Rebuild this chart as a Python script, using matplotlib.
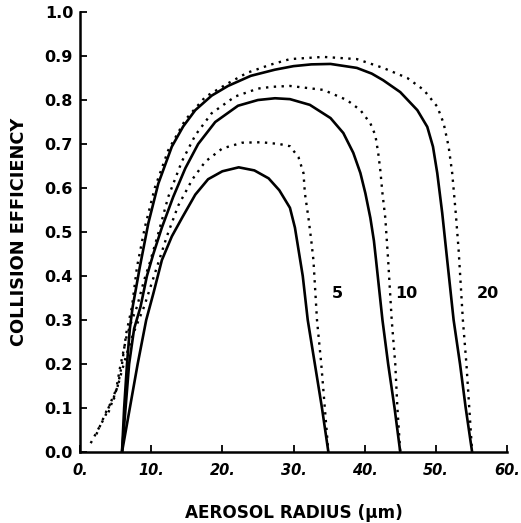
import matplotlib.pyplot as plt

# readings from the figure: aerosol radius (um) vs collision efficiency
solid5_x = [5.9, 7.0, 8.1, 9.3, 10.3, 11.5, 12.9, 14.4, 16.2, 18.0, 20.0, 22.3, 24.5, 26.5, 28.0, 29.5, 30.2, 30.8, 31.3, 32.0, 33.0, 34.0, 34.9]
solid5_y = [0.0, 0.1, 0.2, 0.3, 0.36, 0.436, 0.49, 0.534, 0.585, 0.62, 0.638, 0.647, 0.64, 0.622, 0.595, 0.555, 0.51, 0.45, 0.4, 0.3, 0.2, 0.1, 0.0]

dot5_x = [4.0, 5.3, 6.5, 7.5, 9.0, 10.0, 11.0, 12.2, 13.8, 15.8, 17.6, 20.0, 22.8, 25.5, 28.0, 29.5, 30.7, 31.4, 31.6, 32.1, 32.5, 32.8, 33.3, 33.9, 34.4, 34.9]
dot5_y = [0.09, 0.15, 0.22, 0.27, 0.33, 0.38, 0.43, 0.49, 0.56, 0.62, 0.66, 0.69, 0.703, 0.704, 0.70, 0.695, 0.67, 0.634, 0.588, 0.532, 0.48, 0.436, 0.3, 0.2, 0.1, 0.0]

solid10_x = [5.9, 6.4, 6.9, 7.6, 8.5, 9.4, 10.3, 11.5, 13.1, 14.8, 16.6, 19.0, 22.2, 25.0, 27.4, 29.5, 32.3, 35.2, 37.0, 38.4, 39.4, 40.1, 40.8, 41.3, 41.6, 42.5, 43.3, 44.2, 45.0]
solid10_y = [0.0, 0.1, 0.2, 0.28, 0.33, 0.4, 0.45, 0.51, 0.58, 0.645, 0.7, 0.75, 0.787, 0.8, 0.804, 0.802, 0.789, 0.759, 0.725, 0.68, 0.634, 0.588, 0.532, 0.48, 0.436, 0.3, 0.2, 0.1, 0.0]

dot10_x = [2.3, 3.9, 4.9, 5.6, 6.5, 7.3, 8.0, 9.0, 9.8, 11.0, 12.4, 14.3, 16.2, 18.5, 21.8, 25.0, 27.0, 29.5, 34.2, 37.5, 39.4, 40.8, 41.5, 41.9, 42.2, 42.5, 42.9, 43.3, 43.8, 44.3, 44.6, 45.0]
dot10_y = [0.04, 0.10, 0.125, 0.19, 0.26, 0.3, 0.33, 0.39, 0.43, 0.497, 0.58, 0.66, 0.72, 0.77, 0.808, 0.826, 0.83, 0.832, 0.823, 0.80, 0.777, 0.747, 0.72, 0.68, 0.64, 0.588, 0.532, 0.436, 0.3, 0.2, 0.1, 0.0]

solid20_x = [5.9, 6.2, 6.6, 7.0, 7.4, 8.4, 9.6, 11.0, 12.9, 14.5, 16.2, 18.5, 20.8, 24.0, 27.4, 30.0, 32.5, 35.2, 38.9, 41.0, 42.6, 45.0, 47.4, 48.8, 49.6, 50.2, 50.9, 51.6, 52.5, 53.4, 54.2, 55.1]
solid20_y = [0.0, 0.1, 0.2, 0.28, 0.33, 0.42, 0.52, 0.61, 0.694, 0.74, 0.777, 0.81, 0.832, 0.855, 0.869, 0.877, 0.881, 0.882, 0.873, 0.86, 0.845, 0.818, 0.777, 0.739, 0.694, 0.634, 0.543, 0.436, 0.3, 0.2, 0.1, 0.0]

dot20_x = [1.5, 2.5, 3.5, 4.5, 5.3, 5.9, 6.5, 7.3, 8.0, 9.1, 10.5, 12.4, 14.8, 17.6, 20.8, 23.5, 26.7, 29.5, 34.2, 38.9, 42.6, 46.0, 48.3, 50.2, 51.1, 51.8, 52.3, 52.8, 53.2, 53.8, 54.3, 54.7, 55.1]
dot20_y = [0.02, 0.05, 0.08, 0.12, 0.15, 0.2, 0.27, 0.33, 0.42, 0.51, 0.6, 0.686, 0.755, 0.807, 0.838, 0.862, 0.88, 0.893, 0.898, 0.893, 0.873, 0.85, 0.823, 0.785, 0.747, 0.694, 0.634, 0.543, 0.46, 0.3, 0.2, 0.1, 0.0]

curve_labels = ["5", "10", "20"]
label_x = [36.2, 45.8, 57.3]
label_y = [0.36, 0.36, 0.36]

xticks = [0, 10, 20, 30, 40, 50, 60]
xtick_labels = ["0.", "10.", "20.", "30.", "40.", "50.", "60."]
yticks = [0.0, 0.1, 0.2, 0.3, 0.4, 0.5, 0.6, 0.7, 0.8, 0.9, 1.0]

plt.rcParams['font.family'] = ['DejaVu Sans']

fig = plt.figure(figsize=(5.21, 5.23), dpi=100)
ax = fig.add_axes([0.1536, 0.1358, 0.8195, 0.8412])

solid = dict(color="black", lw=1.9, solid_capstyle="butt", solid_joinstyle="round")
dotted = dict(color="black", lw=1.7, linestyle=(0, (1, 2.3)))

ax.plot(solid5_x, solid5_y, **solid)
ax.plot(dot5_x, dot5_y, **dotted)
ax.plot(solid10_x, solid10_y, **solid)
ax.plot(dot10_x, dot10_y, **dotted)
ax.plot(solid20_x, solid20_y, **solid)
ax.plot(dot20_x, dot20_y, **dotted)

for t, x, y in zip(curve_labels, label_x, label_y):
    ax.text(x, y, t, fontsize=11.5, fontweight="bold", ha="center", va="center")

ax.set_xlim(0, 60)
ax.set_ylim(0, 1.0)
ax.spines["top"].set_visible(False)
ax.spines["right"].set_visible(False)
ax.spines["left"].set_linewidth(1.8)
ax.spines["bottom"].set_linewidth(1.8)

ax.set_xticks(xticks)
ax.set_xticklabels(xtick_labels, fontsize=10.5, fontweight="bold", style="italic")
ax.set_yticks(yticks)
ax.set_yticklabels(["%.1f" % v for v in yticks], fontsize=11.5, fontweight="bold")
ax.tick_params(direction="in", length=5, width=1.3)
ax.tick_params(axis="y", pad=5)
ax.tick_params(axis="x", pad=8)

ax.set_xlabel("AEROSOL RADIUS (\u00b5m)", fontsize=12.2, fontweight="bold", labelpad=19)
ax.set_ylabel("COLLISION EFFICIENCY", fontsize=12.8, fontweight="bold", labelpad=12)

plt.savefig("out.png", dpi=100)
